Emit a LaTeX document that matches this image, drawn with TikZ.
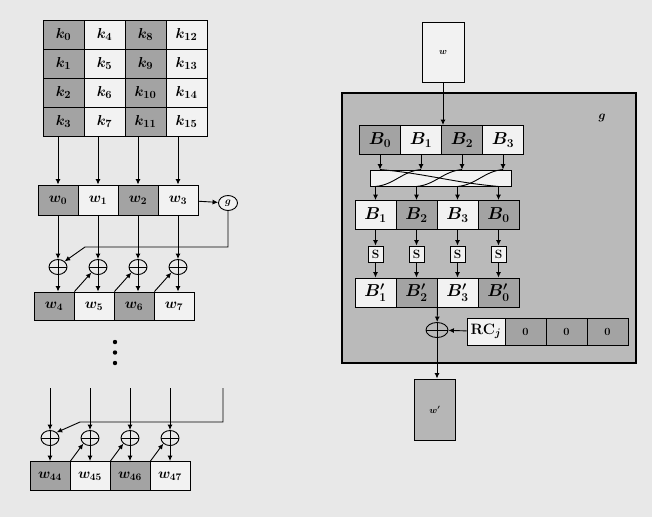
\documentclass[tikz,border=0pt]{standalone}
\usetikzlibrary{arrows.meta,shapes.geometric}
\definecolor{bgc}{gray}{0.91}
\definecolor{darkc}{gray}{0.64}
\definecolor{lightc}{gray}{0.95}
\definecolor{gboxc}{gray}{0.73}
\begin{document}
\begin{tikzpicture}[x=1pt,y=-1pt,
  cell/.style={draw=black, line width=0.9pt, inner sep=0pt, minimum width=41pt, minimum height=29pt},
  dk/.style={cell, fill=darkc},
  lt/.style={cell, fill=lightc},
  kf/.style={font=\fontsize{15}{17}\selectfont\boldmath},
  wf/.style={font=\fontsize{14}{16}\selectfont\boldmath},
  bf/.style={font=\fontsize{16.5}{18}\selectfont\boldmath},
  arr/.style={-{Latex[length=5.5pt,width=5pt]}, line width=0.9pt},
  ln/.style={line width=0.9pt},
  xorc/.style={draw, line width=0.9pt, ellipse, minimum width=18pt, minimum height=15pt, inner sep=0pt,
    path picture={\draw[line width=0.7pt] (path picture bounding box.north) -- (path picture bounding box.south)
      (path picture bounding box.west) -- (path picture bounding box.east);}},
  sbox/.style={draw, line width=0.9pt, fill=lightc, minimum width=15pt, minimum height=16pt, inner sep=0pt,
    font=\fontsize{12}{13}\selectfont\bfseries}
]
\fill[bgc] (0,0) rectangle (652,517);
\useasboundingbox (0,0) rectangle (652,517);

% ---------- key matrix ----------
\node[dk,kf] (k0) at (63.5,34.5) {$k_0$};
\node[dk,kf] (k1) at (63.5,63.5) {$k_1$};
\node[dk,kf] (k2) at (63.5,92.5) {$k_2$};
\node[dk,kf] (k3) at (63.5,121.5) {$k_3$};
\node[lt,kf] (k4) at (104.5,34.5) {$k_4$};
\node[lt,kf] (k5) at (104.5,63.5) {$k_5$};
\node[lt,kf] (k6) at (104.5,92.5) {$k_6$};
\node[lt,kf] (k7) at (104.5,121.5) {$k_7$};
\node[dk,kf] (k8) at (145.5,34.5) {$k_8$};
\node[dk,kf] (k9) at (145.5,63.5) {$k_9$};
\node[dk,kf] (k10) at (145.5,92.5) {$k_{10}$};
\node[dk,kf] (k11) at (145.5,121.5) {$k_{11}$};
\node[lt,kf] (k12) at (186.5,34.5) {$k_{12}$};
\node[lt,kf] (k13) at (186.5,63.5) {$k_{13}$};
\node[lt,kf] (k14) at (186.5,92.5) {$k_{14}$};
\node[lt,kf] (k15) at (186.5,121.5) {$k_{15}$};

% ---------- first w row ----------
\node[dk,wf,minimum width=40pt,minimum height=30pt] (w0) at (58,200) {$w_0$};
\node[lt,wf,minimum width=40pt,minimum height=30pt] (w1) at (98,200) {$w_1$};
\node[dk,wf,minimum width=40pt,minimum height=30pt] (w2) at (138,200) {$w_2$};
\node[lt,wf,minimum width=40pt,minimum height=30pt] (w3) at (178,200) {$w_3$};
\foreach \i in {0,1,2,3} \draw[arr] (w\i |- k3.south) -- (w\i);

\node[draw, line width=0.9pt, fill=lightc, ellipse, minimum width=19pt, minimum height=15pt, inner sep=0pt,
  font=\fontsize{10}{11}\selectfont\boldmath] (g) at (228,203) {$g$};
\draw[arr] (w3) -- (g);

% ---------- xor row 1 ----------
\foreach \i/\x in {0/58,1/98,2/138,3/178} \node[xorc] (x\i) at (\x,267) {};
\node[dk,wf,minimum width=40pt,minimum height=28pt] (w4) at (54,306) {$w_4$};
\node[lt,wf,minimum width=40pt,minimum height=28pt] (w5) at (94,306) {$w_5$};
\node[dk,wf,minimum width=40pt,minimum height=28pt] (w6) at (134,306) {$w_6$};
\node[lt,wf,minimum width=40pt,minimum height=28pt] (w7) at (174,306) {$w_7$};
\foreach \i/\j in {0/4,1/5,2/6,3/7} {
  \draw[arr] (w\i) -- (x\i);
  \draw[arr] (x\i) -- (x\i |- w\j.north);
}
\coordinate (fb1) at (85,247);
\draw[arr] (g.south) |- (fb1) -- (x0.north east);
\draw[arr] (w4.north east) -- (x1.south west);
\draw[arr] (w5.north east) -- (x2.south west);
\draw[arr] (w6.north east) -- (x3.south west);

% ---------- dots ----------
\fill (115,342) circle (2.2pt);
\fill (115,352.5) circle (2.2pt);
\fill (115,363) circle (2.2pt);

% ---------- last round ----------
\foreach \i/\x in {0/50,1/90,2/130,3/170} {
  \coordinate (t\i) at (\x,388);
  \node[xorc] (y\i) at (\x,438) {};
}
\node[dk,wf,minimum width=40pt] (w44) at (50,476) {$w_{44}$};
\node[lt,wf,minimum width=40pt] (w45) at (90,476) {$w_{45}$};
\node[dk,wf,minimum width=40pt] (w46) at (130,476) {$w_{46}$};
\node[lt,wf,minimum width=40pt] (w47) at (170,476) {$w_{47}$};
\foreach \i/\j in {0/44,1/45,2/46,3/47} {
  \draw[arr] (t\i) -- (y\i);
  \draw[arr] (y\i) -- (y\i |- w\j.north);
}
\coordinate (r0) at (223,388);
\coordinate (r1) at (80,422);
\draw[arr] (r0) |- (r1) -- (y0.north east);
\draw[arr] (w44.north east) -- (y1.south west);
\draw[arr] (w45.north east) -- (y2.south west);
\draw[arr] (w46.north east) -- (y3.south west);

% ---------- right: function g ----------
\node[draw, line width=0.9pt, fill=lightc, minimum width=42pt, minimum height=60pt, inner sep=0pt,
  font=\fontsize{9}{10}\selectfont\boldmath] (win) at (443,52) {$w$};
\node[draw, line width=1.1pt, fill=gboxc, minimum width=294pt, minimum height=270pt, inner sep=0pt] (gbox) at (489,228) {};
\node[font=\fontsize{12}{13}\selectfont\boldmath] (glab) at (602,118) {$g$};

\node[dk,bf] (b0) at (380,140) {$B_0$};
\node[lt,bf] (b1) at (421,140) {$B_1$};
\node[dk,bf] (b2) at (462,140) {$B_2$};
\node[lt,bf] (b3) at (503,140) {$B_3$};
\draw[arr] (win.south) -- (win.south |- b1.north);

\node[draw, line width=0.9pt, fill=lightc, minimum width=141pt, minimum height=16pt, inner sep=0pt] (perm) at (440.5,178) {};
\foreach \i in {0,1,2,3} \draw[arr] (b\i) -- (b\i |- perm.north);

\node[lt,bf] (c0) at (375.5,215) {$B_1$};
\node[dk,bf] (c1) at (416.5,215) {$B_2$};
\node[lt,bf] (c2) at (457.5,215) {$B_3$};
\node[dk,bf] (c3) at (498.5,215) {$B_0$};

% permutation wires
\draw[ln] (b0 |- perm.north) to[out=-5,in=175] (c3 |- perm.south);
\draw[ln] (b1 |- perm.north) to[out=185,in=5] (c0 |- perm.south);
\draw[ln] (b2 |- perm.north) to[out=185,in=5] (c1 |- perm.south);
\draw[ln] (b3 |- perm.north) to[out=185,in=5] (c2 |- perm.south);
\foreach \i in {0,1,2,3} \draw[arr] (c\i |- perm.south) -- (c\i);

\foreach \i in {0,1,2,3} \node[sbox] (s\i) at (c\i |- 0,254) {S};

\node[lt,bf] (d0) at (375.5,292.5) {$B'_1$};
\node[dk,bf] (d1) at (416.5,292.5) {$B'_2$};
\node[lt,bf] (d2) at (457.5,292.5) {$B'_3$};
\node[dk,bf] (d3) at (498.5,292.5) {$B'_0$};
\foreach \i in {0,1,2,3} {
  \draw[arr] (c\i) -- (s\i);
  \draw[arr] (s\i) -- (d\i);
}

\node[xorc, minimum width=22pt, minimum height=15pt] (xr) at (437,330) {};
\draw[arr] (d1.south east) -- (xr);

\node[lt, minimum width=38pt, minimum height=27pt, font=\fontsize{15}{17}\selectfont\bfseries] (rc) at (486,331.5) {RC{\boldmath$_j$}};
\node[dk, minimum height=27pt, font=\fontsize{11}{12}\selectfont\bfseries] (z1) at (525.5,331.5) {0};
\node[dk, minimum height=27pt, font=\fontsize{11}{12}\selectfont\bfseries] (z2) at (566.5,331.5) {0};
\node[dk, minimum height=27pt, font=\fontsize{11}{12}\selectfont\bfseries] (z3) at (607.5,331.5) {0};
\draw[arr] (rc) -- (xr);

\node[draw, line width=0.9pt, fill=darkc!80!white, minimum width=41pt, minimum height=61pt, inner sep=0pt,
  font=\fontsize{9}{10}\selectfont\boldmath] (wout) at (435,409.5) {$w'$};
\draw[arr] (xr) -- (xr |- wout.north);
\end{tikzpicture}
\end{document}
